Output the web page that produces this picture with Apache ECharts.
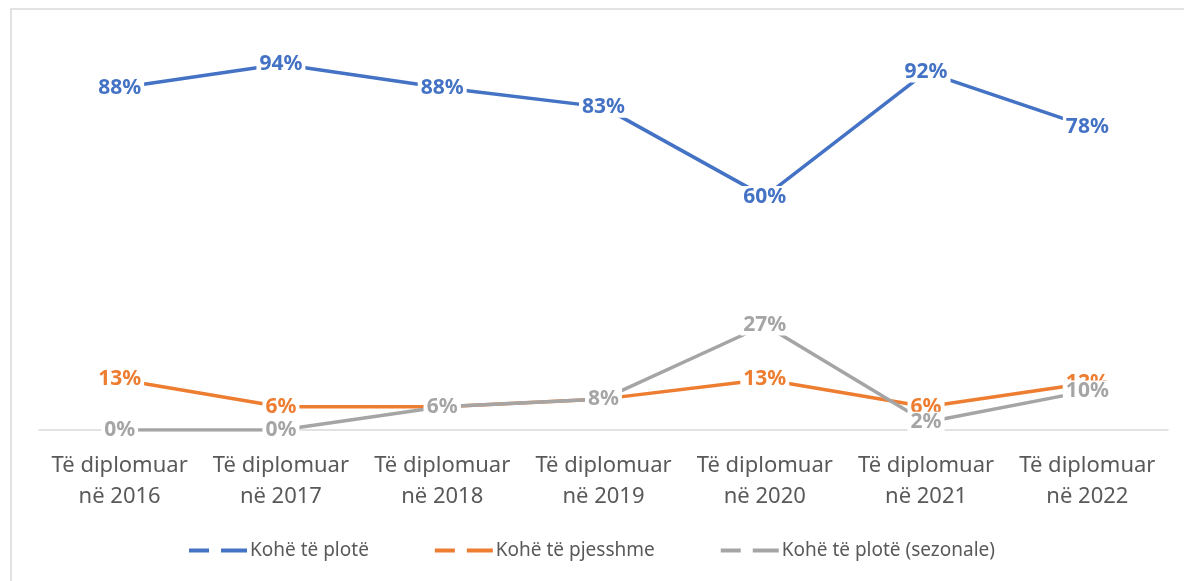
<!DOCTYPE html>
<html lang="sq">
<head>
  <meta charset="UTF-8">
  <title>Të diplomuar</title>
  <style>
    * { margin: 0; padding: 0; }
    body { background: #fff; }
    #chart { width: 1184px; height: 581px; }
  </style>
</head>
<body>
  <div id="chart"></div>
  <script src="https://cdn.jsdelivr.net/npm/echarts@6/dist/echarts.min.js"></script>
  <script>
    const categories = ['Të diplomuar\nnë 2016', 'Të diplomuar\nnë 2017', 'Të diplomuar\nnë 2018',
      'Të diplomuar\nnë 2019', 'Të diplomuar\nnë 2020', 'Të diplomuar\nnë 2021', 'Të diplomuar\nnë 2022'];
    const seriesNames = ['Kohë të plotë', 'Kohë të pjesshme', 'Kohë të plotë (sezonale)'];
    const fullTime = [88, 94, 88, 83, 60, 92, 78];
    const partTime = [13, 6, 6, 8, 13, 6, 12];
    const seasonal = [0, 0, 6, 8, 27, 2, 10];
    const colors = ['#4472C4', '#ED7D31', '#A5A5A5'];

    const chart = echarts.init(document.getElementById('chart'));

    // dashed legend icon like the original (same aspect as itemWidth x itemHeight)
    const dashIcon = 'path://M0,0h20v4h-20z M32,0h26v4h-26z';

    function makeSeries(name, data, color) {
      return {
        name: name,
        type: 'line',
        data: data,
        symbol: 'circle',
        symbolSize: 0,
        lineStyle: { color: color, width: 3.5 },
        itemStyle: { color: color },
        label: {
          show: true,
          position: 'inside',
          formatter: p => p.value + '%',
          color: color,
          fontFamily: 'Noto Sans',
          fontWeight: 'bold',
          fontSize: 21,
          backgroundColor: '#fff',
          padding: [0, 3]
        },
        emphasis: { disabled: true }
      };
    }

    chart.setOption({
      animation: false,
      color: colors,
      graphic: [{
        type: 'rect',
        shape: { x: 11, y: 9, width: 1200, height: 600 },
        style: { fill: 'none', stroke: '#d9d9d9', lineWidth: 1.5 },
        silent: true
      }],
      legend: {
        bottom: 16,
        left: 'center',
        itemGap: 66,
        itemWidth: 58,
        itemHeight: 4,
        icon: dashIcon,
        textStyle: { color: '#595959', fontFamily: 'Noto Sans', fontSize: 19, padding: [0, 0, 0, -2] },
        data: seriesNames
      },
      grid: { left: 39, right: 16, top: 41, bottom: 151 },
      xAxis: {
        type: 'category',
        data: categories,
        boundaryGap: true,
        axisLine: { lineStyle: { color: '#d9d9d9', width: 1.5 } },
        axisTick: { show: false },
        axisLabel: {
          color: '#595959',
          fontFamily: 'Noto Sans',
          fontSize: 22,
          lineHeight: 31,
          margin: 20,
          interval: 0
        }
      },
      yAxis: {
        type: 'value',
        min: 0,
        max: 100,
        show: false,
        splitLine: { show: false }
      },
      series: [
        makeSeries(seriesNames[0], fullTime, colors[0]),
        makeSeries(seriesNames[1], partTime, colors[1]),
        makeSeries(seriesNames[2], seasonal, colors[2])
      ]
    });
  </script>
</body>
</html>
